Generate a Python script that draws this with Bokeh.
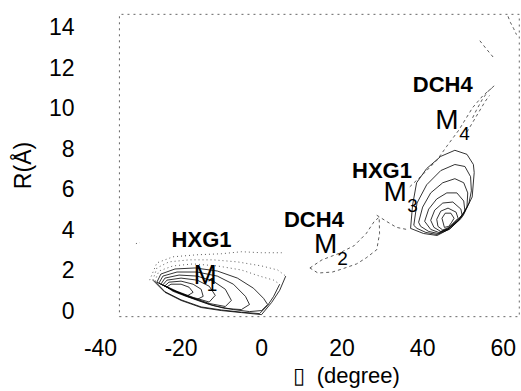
from bokeh.plotting import figure
from bokeh.models import FixedTicker, Range1d, Title
from bokeh.core.properties import value
from bokeh.embed import file_html
from bokeh.resources import INLINE

FONT = "Liberation Sans"

# axes
x_ticks = [-40, -20, 0, 20, 40, 60]
y_ticks = [0, 2, 4, 6, 8, 10, 12, 14]
x_view = (-40.0, 64.3)
y_view = (-0.44, 14.74)
# plotted box of the original figure
box_x0, box_x1 = -35.3, 64.0
box_y0, box_y1 = -0.3, 14.6

# ---- M1 basin (theta in degree, R in Angstrom) ----
m1_solid_xs = [
    [-27.0, -24.0, -20.0, -15.0, -10.0, -5.0, 0.0, 2.5, 4.5, 6.0],
    [-26.5, -24.0, -20.0, -15.0, -10.0, -5.0, -0.5, 1.5, 3.0, 4.5],
    [-26.0, -25.0, -21.5, -16.5, -11.0, -6.0, -2.0, 0.5, 1.5, 0.0, -3.0, -7.0, -12.0, -17.0, -22.0, -26.0],
    [-25.5, -24.5, -21.0, -16.0, -11.0, -7.0, -4.0, -3.0, -5.0, -9.0, -13.0, -18.0, -22.0, -25.5],
    [-25.0, -24.0, -20.5, -16.0, -12.0, -9.0, -7.5, -9.0, -13.0, -18.0, -22.0, -25.0],
    [-24.5, -23.5, -20.0, -16.0, -13.0, -11.5, -13.0, -17.0, -21.0, -24.5],
    [-24.0, -23.0, -20.0, -17.0, -15.0, -14.5, -16.0, -19.0, -22.0, -24.0],
    [-23.5, -22.5, -20.0, -18.0, -17.0, -18.5, -21.0, -23.5],
]
m1_solid_ys = [
    [1.5, 0.9, 0.5, 0.15, 0.0, -0.1, -0.2, 0.4, 1.0, 1.7],
    [1.45, 0.93, 0.53, 0.18, 0.03, -0.08, -0.15, 0.25, 0.7, 1.3],
    [1.4, 1.8, 2.05, 2.1, 1.95, 1.6, 1.1, 0.6, 0.3, 0.0, -0.05, 0.05, 0.25, 0.6, 1.0, 1.4],
    [1.35, 1.7, 1.9, 1.9, 1.7, 1.3, 0.7, 0.3, 0.05, 0.1, 0.3, 0.65, 1.0, 1.35],
    [1.3, 1.6, 1.75, 1.7, 1.45, 1.05, 0.5, 0.2, 0.35, 0.7, 1.0, 1.3],
    [1.27, 1.5, 1.6, 1.5, 1.2, 0.75, 0.42, 0.65, 0.95, 1.27],
    [1.22, 1.4, 1.45, 1.3, 1.05, 0.7, 0.55, 0.72, 0.95, 1.22],
    [1.17, 1.3, 1.3, 1.15, 0.9, 0.72, 0.9, 1.17],
]
m1_dot_xs = [
    [-27.0, -26.0, -23.0, -18.0, -12.0, -6.0, 0.0, 4.0, 6.0],
    [-26.5, -25.5, -22.0, -17.0, -11.0, -5.0, -0.5, 3.0, 4.5],
    [-27.8, -26.0, -22.0, -16.0, -10.0, -5.0, 0.0, 5.0],
    [-31.2, -30.2],
]
m1_dot_ys = [
    [1.5, 2.1, 2.4, 2.5, 2.5, 2.4, 2.2, 2.0, 1.7],
    [1.45, 1.95, 2.2, 2.3, 2.2, 2.0, 1.7, 1.5, 1.3],
    [1.5, 2.35, 2.65, 2.75, 2.8, 2.9, 2.85, 2.85],
    [3.3, 3.35],
]

# ---- M2 basin and paths (dashed) ----
path_xs = [
    [12.0, 15.0, 19.0, 23.0, 26.0, 28.0, 29.2, 29.3, 28.6, 26.0, 23.6, 20.0, 17.6, 14.0, 12.0],
    [28.6, 31.0, 33.5, 36.0],
    [36.8, 40.0, 43.5, 46.0, 49.0, 52.4, 55.0, 57.4],
    [51.0, 52.2, 54.0, 55.5, 56.6],
    [52.4, 53.4, 54.8, 56.2, 57.9],
    [54.2, 55.8, 57.9],
    [61.2, 61.8, 62.6, 63.3],
]
path_ys = [
    [2.1, 2.5, 2.8, 3.2, 3.8, 4.4, 4.6, 3.8, 3.0, 2.6, 2.3, 2.05, 1.9, 1.85, 2.1],
    [4.7, 4.4, 4.1, 4.0],
    [6.1, 6.7, 7.4, 8.1, 8.9, 10.0, 10.6, 11.0],
    [8.8, 9.2, 9.8, 10.3, 10.6],
    [9.5, 9.9, 10.4, 10.8, 11.1],
    [13.3, 12.9, 12.4],
    [14.5, 14.2, 13.9, 13.6],
]

# ---- M3 basin ----
m3_xs = [
    [37.0, 37.5, 38.5, 41.0, 44.5, 48.0, 51.0, 52.6, 52.8, 52.3, 50.1, 46.9, 43.6, 40.2, 37.0],
    [37.8, 38.6, 41.0, 44.5, 48.0, 50.5, 51.9, 52.1, 51.5, 49.6, 46.6, 43.6, 40.8, 38.6, 37.8],
    [39.0, 40.0, 42.0, 45.0, 48.0, 50.2, 51.2, 51.0, 49.0, 46.2, 43.8, 41.5, 39.5, 39.0],
    [40.5, 41.5, 43.5, 46.0, 48.5, 50.2, 50.5, 48.8, 46.3, 44.0, 42.0, 40.5],
    [42.0, 43.0, 45.0, 47.5, 49.5, 49.8, 48.5, 46.4, 44.5, 42.8, 42.0],
    [43.5, 44.5, 46.3, 48.3, 48.8, 47.8, 46.5, 45.0, 43.8, 43.5],
    [44.8, 45.6, 47.0, 47.8, 47.2, 46.5, 45.4, 44.8],
]
m3_ys = [
    [4.05, 5.2, 6.3, 7.0, 7.6, 7.9, 7.7, 7.2, 6.8, 5.6, 4.7, 4.05, 3.7, 3.8, 4.05],
    [4.2, 5.3, 6.2, 6.9, 7.2, 7.1, 6.6, 5.9, 5.3, 4.55, 4.0, 3.75, 3.85, 4.05, 4.2],
    [4.35, 5.1, 5.8, 6.3, 6.5, 6.3, 5.8, 5.1, 4.45, 4.0, 3.8, 3.9, 4.15, 4.35],
    [4.4, 5.0, 5.5, 5.8, 5.8, 5.4, 4.9, 4.45, 4.02, 3.85, 4.0, 4.4],
    [4.45, 4.95, 5.3, 5.35, 5.0, 4.7, 4.45, 4.05, 3.9, 4.1, 4.45],
    [4.5, 4.9, 5.05, 4.85, 4.55, 4.35, 4.1, 3.97, 4.15, 4.5],
    [4.55, 4.8, 4.8, 4.55, 4.35, 4.15, 4.1, 4.55],
]

# ---- annotations ----
site_text = ["HXG1", "DCH4", "HXG1", "DCH4"]
site_x = [-14.9, 13.0, 29.9, 45.0]
site_y = [3.52, 4.51, 6.9, 11.16]
min_sub = ["1", "2", "3", "4"]
min_x = [-14.0, 15.9, 33.2, 46.0]
min_y = [1.77, 3.30, 5.87, 9.44]
sub_x = [-12.3, 20.1, 37.5, 50.4]
sub_y = [1.28, 2.59, 5.17, 8.72]

p = figure(width=521, height=391, output_backend="svg", toolbar_location=None,
           x_range=Range1d(*x_view), y_range=Range1d(*y_view),
           min_border_left=100, min_border_right=1, min_border_top=11, min_border_bottom=72)
p.background_fill_color = "white"
p.border_fill_color = "white"
p.grid.visible = False
p.outline_line_color = None

for ax in (p.xaxis[0], p.yaxis[0]):
    ax.axis_line_color = None
    ax.major_tick_line_color = None
    ax.minor_tick_line_color = None
    ax.major_tick_in = 0
    ax.major_tick_out = 0
    ax.major_label_text_font = FONT
    ax.major_label_text_font_size = "23px"
    ax.major_label_text_color = "black"

p.xaxis.ticker = FixedTicker(ticks=x_ticks)
p.xaxis.major_label_overrides = {t: str(t) for t in x_ticks}
p.xaxis.major_label_standoff = 19
p.yaxis.ticker = FixedTicker(ticks=y_ticks)
p.yaxis.major_label_standoff = 26
p.yaxis.axis_label = "R(Å)"
p.yaxis.axis_label_text_font = FONT
p.yaxis.axis_label_text_font_size = "23px"
p.yaxis.axis_label_text_font_style = "normal"
p.yaxis.axis_label_text_color = "black"
p.yaxis.axis_label_standoff = 10

# x axis title: missing-glyph box followed by "(degree)"
p.add_layout(Title(text="\u25af\u00a0 (degree)", align="left", offset=192, standoff=4,
                   text_font=FONT, text_font_size="22px", text_font_style="normal",
                   text_color="black"), "below")

# dashed box of the original plot frame
p.multi_line(xs=[[box_x0, box_x1, box_x1, box_x0, box_x0]],
             ys=[[box_y0, box_y0, box_y1, box_y1, box_y0]],
             line_color="#666666", line_width=1, line_dash="2 4")

# contours
p.multi_line(xs=m1_solid_xs, ys=m1_solid_ys, line_color="black", line_width=0.8)
p.multi_line(xs=m1_dot_xs, ys=m1_dot_ys, line_color="#333333", line_width=0.8, line_dash="1 3")
p.multi_line(xs=m3_xs, ys=m3_ys, line_color="black", line_width=0.8)
p.multi_line(xs=path_xs, ys=path_ys, line_color="#333333", line_width=0.8, line_dash="3 3")

# labels
p.text(x=site_x, y=site_y, text=site_text, text_font=value(FONT), text_font_style="bold",
       text_font_size="22px", text_align="center", text_baseline="middle", text_color="black")
p.text(x=min_x, y=min_y, text=["M"] * len(min_x), text_font=value(FONT),
       text_font_size="28px", text_align="center", text_baseline="middle", text_color="black")
p.text(x=sub_x, y=sub_y, text=min_sub, text_font=value(FONT),
       text_font_size="19px", text_align="center", text_baseline="middle", text_color="black")

open("out.html", "w").write(file_html(p, INLINE))
